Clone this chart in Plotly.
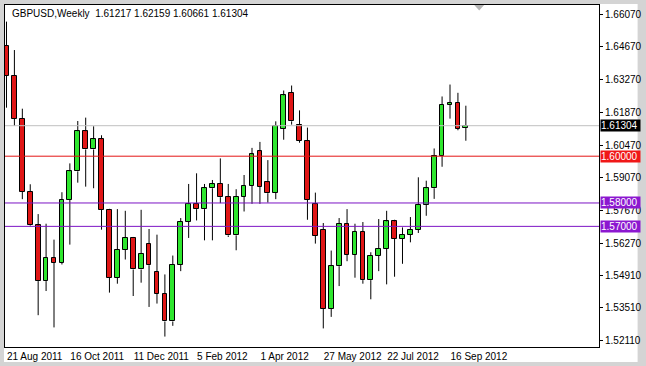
import plotly.graph_objects as go
import pandas as pd

# ---- data (GBPUSD weekly) ----
opens = [1.64722, 1.63440, 1.61606, 1.58486, 1.57040, 1.54660, 1.55655, 1.55442, 1.58133, 1.59353,
         1.61066, 1.60288, 1.60726, 1.57708, 1.54804, 1.56007, 1.56505, 1.55157, 1.56250, 1.55060,
         1.54124, 1.52934, 1.55357, 1.57198, 1.57950, 1.57738, 1.58630, 1.58813, 1.58248, 1.56615,
         1.58273, 1.58741, 1.60216, 1.58885, 1.58444, 1.61181, 1.62711, 1.61351, 1.60641, 1.57950,
         1.56845, 1.53487, 1.55298, 1.57100, 1.55782, 1.56760, 1.54702, 1.55752, 1.56037, 1.57211,
         1.56462, 1.56632, 1.56845, 1.57933, 1.58630, 1.60003, 1.62201, 1.62286, 1.61217]
highs = [1.65755, 1.64539, 1.62031, 1.58800, 1.57525, 1.57113, 1.56433, 1.58460, 1.59693, 1.61504,
         1.61649, 1.61279, 1.60896, 1.57750, 1.57738, 1.57665, 1.56548, 1.57708, 1.56887, 1.56645,
         1.54945, 1.55752, 1.57355, 1.58813, 1.59268, 1.58813, 1.58983, 1.59906, 1.58813, 1.58588,
         1.59196, 1.60356, 1.60611, 1.59833, 1.61491, 1.62809, 1.63022, 1.61959, 1.61223, 1.58443,
         1.57143, 1.55965, 1.57355, 1.57738, 1.57113, 1.57185, 1.55893, 1.57313, 1.57665, 1.57283,
         1.56955, 1.57398, 1.59098, 1.58953, 1.60331, 1.62554, 1.63064, 1.62711, 1.62159]
lows = [1.62074, 1.61291, 1.58163, 1.56998, 1.53202, 1.54235, 1.52679, 1.55370, 1.56220, 1.58868,
        1.58698, 1.58630, 1.56858, 1.54167, 1.54549, 1.55582, 1.54022, 1.54592, 1.53555, 1.53699,
        1.52288, 1.52747, 1.55085, 1.56505, 1.57253, 1.56403, 1.56403, 1.57993, 1.56547, 1.55978,
        1.57636, 1.57963, 1.57963, 1.58018, 1.58163, 1.60705, 1.61351, 1.60577, 1.57283, 1.56263,
        1.52637, 1.53130, 1.54447, 1.55510, 1.54805, 1.54549, 1.53882, 1.55085, 1.54520, 1.54847,
        1.55400, 1.56318, 1.56717, 1.57453, 1.58176, 1.59549, 1.61606, 1.61109, 1.60661]
closes = [1.63447, 1.61606, 1.58486, 1.57040, 1.54660, 1.55655, 1.55442, 1.58133, 1.59353, 1.61066,
          1.60288, 1.60726, 1.57708, 1.54804, 1.56007, 1.56505, 1.55157, 1.55825, 1.55340, 1.54124,
          1.52934, 1.55357, 1.57198, 1.57950, 1.57738, 1.58630, 1.58800, 1.58248, 1.56615, 1.58273,
          1.58741, 1.60076, 1.58698, 1.58418, 1.61308, 1.62597, 1.61491, 1.60671, 1.58133, 1.56603,
          1.53487, 1.55298, 1.57100, 1.55782, 1.56760, 1.54702, 1.55752, 1.56037, 1.57211, 1.56462,
          1.56632, 1.56845, 1.57933, 1.58630, 1.60003, 1.62201, 1.62286, 1.61164, 1.61304]

week_start = "2011-08-21"
dates = pd.date_range(week_start, periods=len(opens), freq="7D")

x_tick_bars = [0, 8, 16, 24, 32, 40, 48, 56]
x_tick_labels = ["21 Aug 2011", "16 Oct 2011", "11 Dec 2011", "5 Feb 2012",
                 "1 Apr 2012", "27 May 2012", "22 Jul 2012", "16 Sep 2012"]

y_tick_vals = [1.66070, 1.64670, 1.63270, 1.61870, 1.60470, 1.59070, 1.57670,
               1.56270, 1.54910, 1.53510, 1.52110]
y_tick_labels = ["1.66070", "1.64670", "1.63270", "1.61870", "1.60470", "1.59070", "1.57670",
                 "1.56270", "1.54910", "1.53510", "1.52110"]

level_prices = [1.61304, 1.60000, 1.58000, 1.57000]
level_labels = ["1.61304", "1.60000", "1.58000", "1.57000"]
level_line_colors = ["#c0c0c0", "#e41414", "#7c14c4", "#7c14c4"]
level_box_colors = ["#000000", "#f01818", "#8c18d0", "#8c18d0"]

title_text = "GBPUSD,Weekly\u00a0\u00a01.61217 1.62159 1.60661 1.61304"

BULL = "#2ee62e"
BEAR = "#e01616"

# ---- geometry ----
W, H = 646, 366
ML, MR, MT, MB = 4, 42, 4, 18
PW, PH = W - ML - MR, H - MT - MB

n = len(opens)
idx = list(range(n))
body_base = [min(o, c) for o, c in zip(opens, closes)]
body_h = [abs(c - o) for o, c in zip(opens, closes)]
colors = [BULL if c > o else BEAR for o, c in zip(opens, closes)]

wx, wy = [], []
for i in idx:
    top = max(opens[i], closes[i])
    bot = min(opens[i], closes[i])
    if highs[i] > top:
        wx += [i, i, None]
        wy += [top, highs[i], None]
    if lows[i] < bot:
        wx += [i, i, None]
        wy += [lows[i], bot, None]

fig = go.Figure()
fig.add_trace(go.Scatter(x=wx, y=wy, mode="lines", line=dict(color="black", width=1),
                         hoverinfo="skip", showlegend=False))
fig.add_trace(go.Bar(x=idx, y=body_h, base=body_base, width=0.6,
                     marker=dict(color=colors, line=dict(color="black", width=1)),
                     hoverinfo="skip", showlegend=False))

# horizontal level lines
for p, c in zip(level_prices, level_line_colors):
    fig.add_shape(type="line", xref="paper", yref="y", x0=0, x1=1, y0=p, y1=p,
                  line=dict(color=c, width=1), layer="above")

# price boxes on the right axis
for p, t, c in zip(level_prices, level_labels, level_box_colors):
    fig.add_annotation(xref="paper", yref="y", x=1, y=p, xanchor="left", yanchor="middle",
                       xshift=1, text=t + "\u00a0", showarrow=False, bgcolor=c, borderpad=0,
                       font=dict(family="Liberation Sans", size=10, color="white"))

def px_x(px):
    return (px - ML) / PW

def px_y(py):
    return (H - MB - py) / PH

# outer window frame (grey) with white interior
fig.add_shape(type="rect", xref="paper", yref="paper", x0=px_x(3), x1=px_x(643),
              y0=px_y(363), y1=px_y(3), fillcolor="white", line=dict(width=0), layer="below")

# chart shift marker
fig.add_shape(type="path", xref="paper", yref="paper",
              path=f"M {px_x(478)},{px_y(4)} L {px_x(488)},{px_y(4)} L {px_x(483)},{px_y(9.5)} Z",
              fillcolor="#b4b4b4", line=dict(width=0), layer="above")

fig.add_annotation(xref="paper", yref="paper", x=px_x(9), y=px_y(13), xanchor="left",
                   yanchor="middle", text=title_text, showarrow=False,
                   font=dict(family="Liberation Sans", size=10, color="black"))

x0 = -0.1875
fig.update_layout(
    width=W, height=H,
    margin=dict(l=ML, r=MR, t=MT, b=MB),
    paper_bgcolor="#d4d4d4", plot_bgcolor="white",
    barmode="overlay", bargap=0,
    font=dict(family="Liberation Sans", size=10, color="black"),
    xaxis=dict(range=[x0, x0 + PW / 8.0], showgrid=False, zeroline=False,
               showline=True, linecolor="black", linewidth=1, mirror=True,
               tickmode="array", tickvals=x_tick_bars, ticktext=x_tick_labels,
               ticks="", ticklabelposition="outside right",
               tickfont=dict(family="Liberation Sans", size=10, color="black")),
    yaxis=dict(range=[1.51842, 1.66465], side="right", showgrid=False, zeroline=False,
               showline=True, linecolor="black", linewidth=1, mirror=True,
               tickmode="array", tickvals=y_tick_vals, ticktext=y_tick_labels,
               ticks="outside", ticklen=3, tickcolor="black",
               tickfont=dict(family="Liberation Sans", size=10, color="black")),
)

fig.write_html("out.html")
